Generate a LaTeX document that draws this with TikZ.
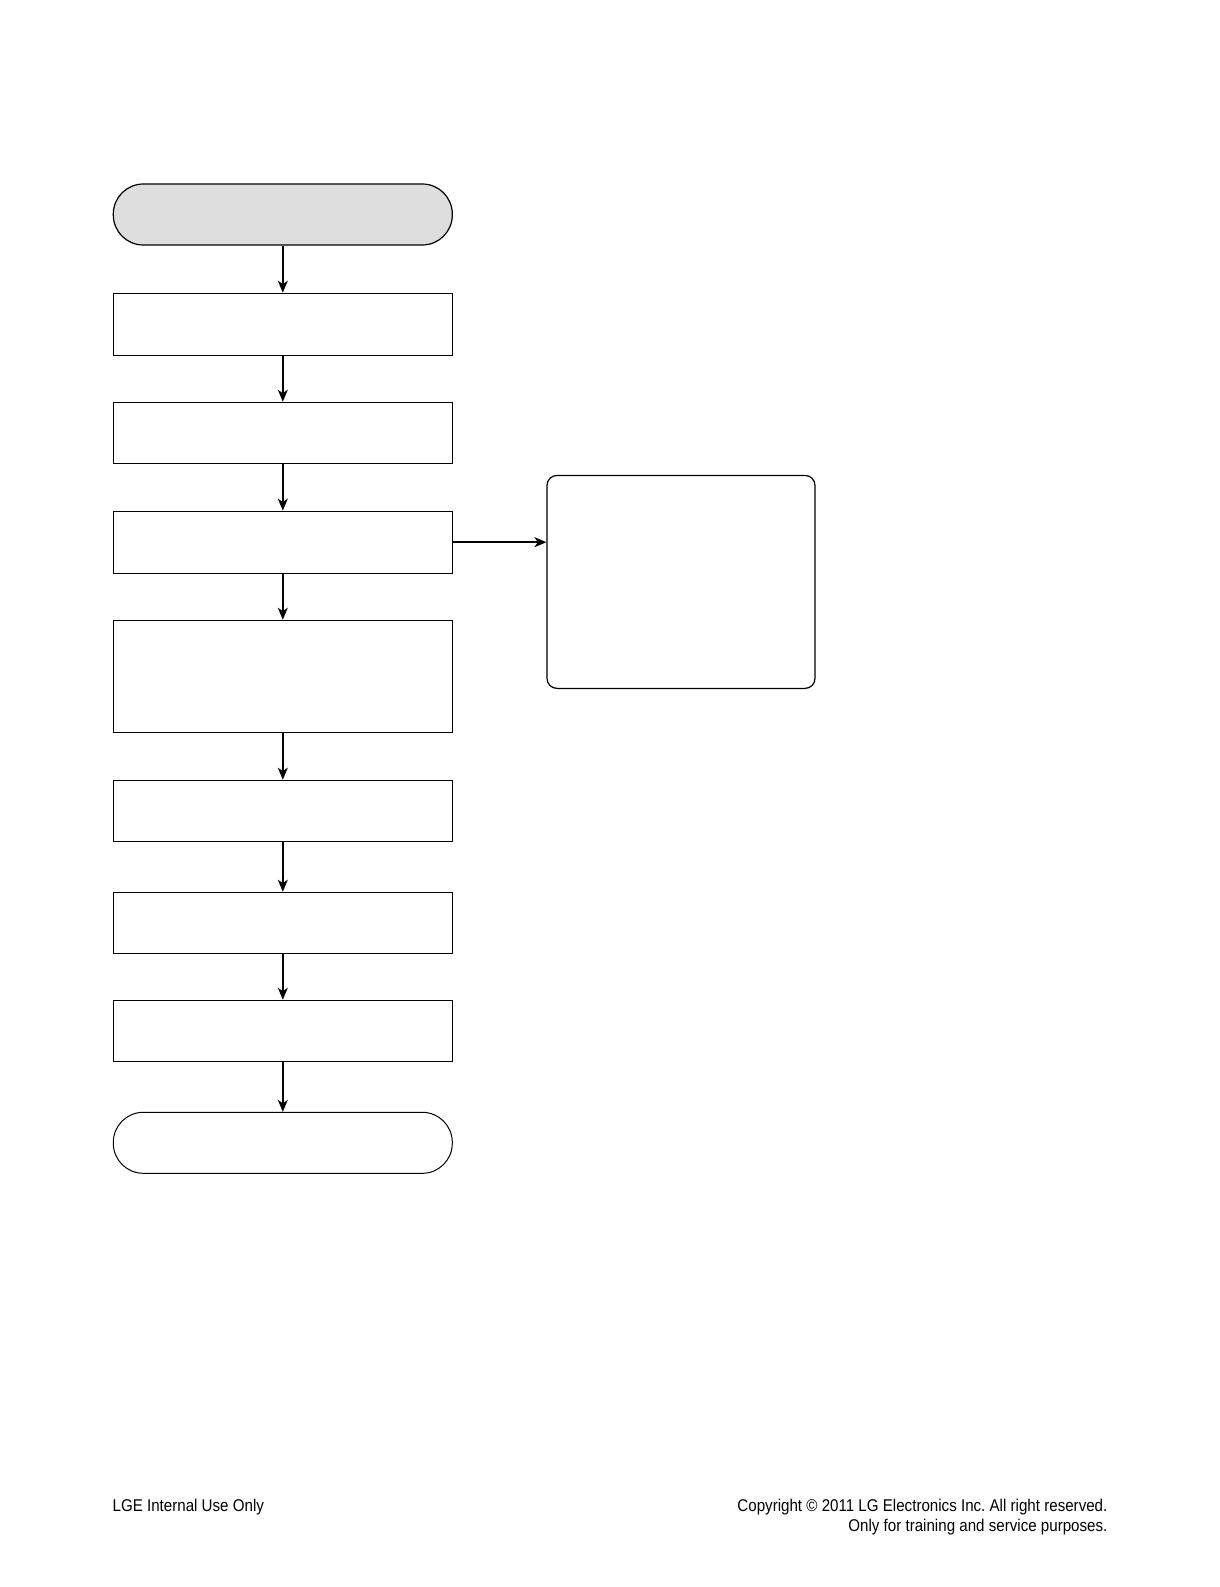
\documentclass[tikz,border=0pt]{standalone}
\usepackage{fontspec}
\setmainfont{Liberation Sans}
\newfontfamily\footfont[FakeStretch=0.89]{Liberation Sans}
\usetikzlibrary{arrows.meta}
\definecolor{termgray}{HTML}{DEDEDE}
\frenchspacing

\tikzset{
  flowbox/.style={draw, rectangle, minimum width=339pt, minimum height=61pt, inner sep=0pt},
  termbox/.style={flowbox, rounded corners=30pt},
  sidebox/.style={draw, rectangle, rounded corners=10pt, minimum width=268pt, minimum height=213pt, inner sep=0pt},
  flow/.style={line width=1.4pt, -{Stealth[length=12pt, width=10pt, inset=3.5pt]}},
  footer/.style={inner sep=0pt, font=\footfont\fontsize{17}{19.5}\selectfont}
}

\begin{document}
\begin{tikzpicture}[x=1pt, y=-1pt, line width=1.2pt]

  \useasboundingbox (0, 0) rectangle (1219, 1587);

  \newcommand\CX{282.8};

  %% main column
  \node[termbox, fill=termgray] (start) at (\CX, 214.5) {};
  \node[flowbox, minimum height=62pt] (stepa) at (\CX, 324.3) {};
  \node[flowbox] (stepb) at (\CX, 432.8) {};
  \node[flowbox, minimum height=62pt] (stepc) at (\CX, 542.2) {};
  \node[flowbox, minimum height=112pt] (stepd) at (\CX, 676.3) {};
  \node[flowbox] (stepe) at (\CX, 810.8) {};
  \node[flowbox] (stepf) at (\CX, 922.8) {};
  \node[flowbox] (stepg) at (\CX, 1030.8) {};
  \node[termbox, line width=1pt] (finish) at (\CX, 1142.8) {};

  %% side branch
  \node[sidebox] (side) at (681, 581.9) {};

  \draw[flow] (start) -- (stepa);
  \draw[flow] (stepa) -- (stepb);
  \draw[flow] (stepb) -- (stepc);
  \draw[flow] (stepc) -- (stepd);
  \draw[flow] (stepd) -- (stepe);
  \draw[flow] (stepe) -- (stepf);
  \draw[flow] (stepf) -- (stepg);
  \draw[flow] (stepg) -- (finish);
  \draw[flow, line width=1.8pt] (stepc.east) -- (stepc.east -| side.west); %% C->side

  %% footer
  \node[footer, anchor=base west] (internal) at (112, 1511.5) {LGE Internal Use Only};
  \node[footer, anchor=base east] (copy) at (1108, 1511.5) {Copyright © 2011 LG Electronics Inc. All right reserved.};
  \node[footer, anchor=base east] (purpose) at (1108, 1531) {Only for training and service purposes.};
\end{tikzpicture}
\end{document}
